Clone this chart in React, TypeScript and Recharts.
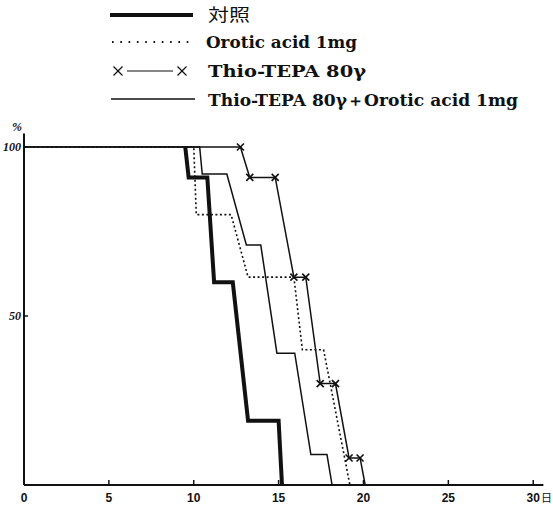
import { Label, Legend, Line, LineChart, XAxis, YAxis } from 'recharts';

const DAY_TICKS = [0, 5, 10, 15, 20, 25, 30];
const PCT_TICKS = [50, 100];

const SERIES_NAMES = ['対照', 'Orotic acid 1mg', 'Thio-TEPA 80γ', 'Thio-TEPA 80γ＋Orotic acid 1mg'];

// survival curves (day, % alive) at each corner
const controlDays = [9.5, 9.7, 10.8, 11.2, 12.3, 13.2, 15.0, 15.2];
const controlPct = [100, 91, 91, 60, 60, 19, 19, 0];

const oroticDays = [0, 10.0, 10.15, 12.2, 13.2, 15.9, 16.4, 17.65, 19.2];
const oroticPct = [100, 100, 80, 80, 61.5, 61.5, 40, 40, 0];

const thioDays = [0, 12.75, 13.3, 14.8, 15.9, 16.6, 17.45, 18.35, 19.15, 19.8, 20.1];
const thioPct = [100, 100, 91, 91, 61.5, 61.5, 30, 30, 8, 8, 0];

const comboDays = [0, 10.35, 10.5, 11.95, 13.1, 13.95, 14.9, 15.95, 16.9, 17.85, 18.15];
const comboPct = [100, 100, 92, 92, 71, 71, 39, 39, 9, 9, 0];

const toPoints = (days: number[], pct: number[]) => days.map((day, i) => ({ day, pct: pct[i] }));

const control = toPoints(controlDays, controlPct);
const orotic = toPoints(oroticDays, oroticPct);
const thio = toPoints(thioDays, thioPct);
const combo = toPoints(comboDays, comboPct);

const INK = '#111';
const LEGEND_FONT = '"DejaVu Serif", "Liberation Serif", serif';

function Cross({ x, y, r, w }: { x: number; y: number; r: number; w: number }) {
  return (
    <g stroke={INK} strokeWidth={w}>
      <line x1={x - r} y1={y - r} x2={x + r} y2={y + r} />
      <line x1={x - r} y1={y + r} x2={x + r} y2={y - r} />
    </g>
  );
}

function ThioDot(props: any) {
  const { cx, cy, index } = props;
  if (index === 0 || index === thio.length - 1 || cx == null) return <g />;
  return <Cross x={cx} y={cy} r={3.5} w={1.6} />;
}

function DayTick({ x, y, payload }: any) {
  return (
    <g>
      {payload.value > 0 && <line x1={x} x2={x} y1={y} y2={y - 5} stroke={INK} strokeWidth={1.5} />}
      <text
        x={x}
        y={y + 17}
        textAnchor="middle"
        fontSize={12}
        fontWeight="bold"
        fontFamily='"Liberation Sans", sans-serif'
        fill={INK}
      >
        {payload.value}
      </text>
    </g>
  );
}

function PctTick({ x, y, payload }: any) {
  return (
    <g>
      <line x1={x} x2={x + 4} y1={y} y2={y} stroke={INK} strokeWidth={1.5} />
      <text
        x={x - 3}
        y={y}
        dy="0.35em"
        textAnchor="end"
        fontSize={12}
        fontWeight="bold"
        fontStyle="italic"
        fontFamily='"Liberation Serif", serif'
        fill={INK}
      >
        {payload.value}
      </text>
    </g>
  );
}

function LegendBlock() {
  return (
    <svg width={553} height={112} style={{ display: 'block' }}>
      <line x1={110} x2={193} y1={15} y2={15} stroke={INK} strokeWidth={4} />
      <text x={208} y={21} fontSize={17} fontFamily='"Noto Sans CJK JP", sans-serif' fill={INK}
        textLength={42} lengthAdjust="spacingAndGlyphs">
        {SERIES_NAMES[0]}
      </text>

      <line x1={112} x2={194} y1={42} y2={42} stroke={INK} strokeWidth={1.8} strokeDasharray="1.6 6.7" />
      <text x={206} y={47.5} fontSize={16} fontWeight="bold" fontFamily={LEGEND_FONT} fill={INK}
        textLength={151} lengthAdjust="spacingAndGlyphs">
        {SERIES_NAMES[1]}
      </text>

      <Cross x={118} y={71} r={4.5} w={1.2} />
      <line x1={127} x2={173} y1={71} y2={71} stroke={INK} strokeWidth={1.2} />
      <Cross x={182} y={71} r={4.5} w={1.2} />
      <text x={208} y={77} fontSize={16} fontWeight="bold" fontFamily={LEGEND_FONT} fill={INK}
        textLength={158} lengthAdjust="spacingAndGlyphs">
        {SERIES_NAMES[2]}
      </text>

      <line x1={111} x2={195} y1={99} y2={99} stroke={INK} strokeWidth={1.3} />
      <text x={208} y={105.5} fontSize={16} fontWeight="bold" fontFamily={LEGEND_FONT} fill={INK}
        textLength={310} lengthAdjust="spacingAndGlyphs">
        {SERIES_NAMES[3]}
      </text>
    </svg>
  );
}

export default function App() {
  return (
    <div style={{ position: 'absolute', left: 0, top: 0, background: '#fff' }}>
      <LineChart width={553} height={510} margin={{ top: 133.5, right: 9.6, bottom: 0, left: 0 }}>
        <XAxis
          type="number"
          dataKey="day"
          domain={[0, 30.6]}
          ticks={DAY_TICKS}
          allowDataOverflow
          height={25}
          tickSize={0}
          tickMargin={0}
          tick={DayTick}
          axisLine={{ stroke: INK, strokeWidth: 2 }}
        >
          <Label
            content={({ viewBox }: any) => (
              <text
                x={viewBox.x + viewBox.width - 2.5}
                y={viewBox.y + 13}
                dy="0.35em"
                fontSize={11}
                fontFamily='"Noto Sans CJK JP", sans-serif'
                fill={INK}
              >
                日
              </text>
            )}
          />
        </XAxis>
        <YAxis
          type="number"
          domain={[0, 104]}
          ticks={PCT_TICKS}
          width={24}
          tickSize={0}
          tickMargin={0}
          tick={PctTick}
          axisLine={{ stroke: INK, strokeWidth: 2 }}
        >
          <Label
            content={({ viewBox }: any) => (
              <text
                x={viewBox.x + 17}
                y={viewBox.y - 3}
                textAnchor="middle"
                fontSize={12}
                fontWeight="bold"
                fontStyle="italic"
                fontFamily='"Liberation Serif", serif'
                fill={INK}
              >
                %
              </text>
            )}
          />
        </YAxis>
        <Legend
          layout="vertical"
          align="center"
          verticalAlign="middle"
          wrapperStyle={{ top: 0, left: 0, width: 553, height: 112 }}
          content={LegendBlock}
        />
        <Line
          data={orotic}
          dataKey="pct"
          name={SERIES_NAMES[1]}
          type="linear"
          stroke={INK}
          strokeWidth={1.6}
          strokeDasharray="2 2.5"
          dot={false}
          activeDot={false}
          isAnimationActive={false}
        />
        <Line
          data={combo}
          dataKey="pct"
          name={SERIES_NAMES[3]}
          type="linear"
          stroke={INK}
          strokeWidth={1.5}
          dot={false}
          activeDot={false}
          isAnimationActive={false}
        />
        <Line
          data={thio}
          dataKey="pct"
          name={SERIES_NAMES[2]}
          type="linear"
          stroke={INK}
          strokeWidth={1.5}
          dot={ThioDot}
          activeDot={false}
          isAnimationActive={false}
        />
        <Line
          data={control}
          dataKey="pct"
          name={SERIES_NAMES[0]}
          type="linear"
          stroke={INK}
          strokeWidth={4}
          dot={false}
          activeDot={false}
          isAnimationActive={false}
        />
      </LineChart>
    </div>
  );
}
